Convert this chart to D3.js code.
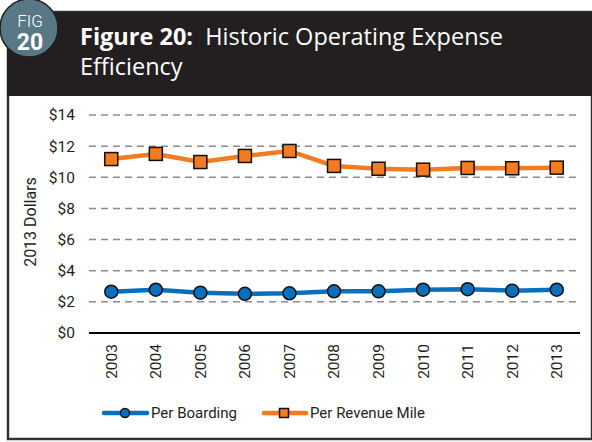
<!DOCTYPE html>
<html>
<head>
<meta charset="utf-8">
<script src="https://cdn.jsdelivr.net/npm/d3@7"></script>
<style>
  body { margin: 0; background: #fff; }
  svg { display: block; }
</style>
</head>
<body>
<script>
// values (2013 dollars)
var years = ['2003','2004','2005','2006','2007','2008','2009','2010','2011','2012','2013'];
var perBoarding = [2.65, 2.78, 2.59, 2.52, 2.55, 2.68, 2.68, 2.78, 2.81, 2.72, 2.78];
var perRevenueMile = [11.17, 11.5, 10.98, 11.37, 11.69, 10.73, 10.55, 10.49, 10.6, 10.58, 10.62];
var yTicks = [0, 2, 4, 6, 8, 10, 12, 14];

var W = 592, H = 442;
var font = 'Roboto, sans-serif';
var blue = '#0a70be', orange = '#f47b20';

var svg = d3.select('body').append('svg').attr('width', W).attr('height', H);

// frame + header
svg.append('rect').attr('x', 8).attr('y', 12).attr('width', W - 8).attr('height', 427)
  .attr('fill', '#fff').attr('stroke', '#333').attr('stroke-width', 2.5);
svg.append('rect').attr('x', 7).attr('y', 12).attr('width', W - 7).attr('height', 84)
  .attr('fill', '#231f20');

svg.append('circle').attr('cx', 29).attr('cy', 28).attr('r', 29)
  .attr('fill', '#587886').attr('stroke', '#231f20').attr('stroke-width', 1.5);
svg.append('text').attr('x', 30).attr('y', 27).attr('text-anchor', 'middle')
  .attr('font-family', font).attr('font-size', 17).attr('font-weight', 300)
  .attr('fill', '#fff').text('FIG');
svg.append('text').attr('x', 30).attr('y', 50).attr('text-anchor', 'middle')
  .attr('font-family', font).attr('font-size', 23).attr('font-weight', 700)
  .attr('fill', '#fff').text('20');

var title = svg.append('text').attr('x', 80).attr('y', 45)
  .attr('font-family', '"Open Sans", sans-serif').attr('font-size', 23.5).attr('fill', '#fff');
title.append('tspan').attr('font-weight', 700).text('Figure 20:');
title.append('tspan').text('\u00a0 Historic Operating Expense');
svg.append('text').attr('x', 80).attr('y', 75)
  .attr('font-family', '"Open Sans", sans-serif').attr('font-size', 23.5).attr('fill', '#fff')
  .text('Efficiency');

// chart
var x = d3.scaleBand().domain(years).range([89, 579]);
var y = d3.scaleLinear().domain([0, 14]).range([333, 115]);

var grid = svg.append('g');
grid.selectAll('line').data(yTicks.filter(function(d) { return d > 0; })).enter()
  .append('line')
  .attr('x1', 89).attr('x2', 580)
  .attr('y1', function(d) { return y(d); }).attr('y2', function(d) { return y(d); })
  .attr('stroke', '#8c8c8c').attr('stroke-width', 1.5).attr('stroke-dasharray', '7,5');

var yAxis = svg.append('g').attr('transform', 'translate(89,0)')
  .call(d3.axisLeft(y).tickValues(yTicks).tickSize(0).tickPadding(14)
    .tickFormat(function(d) { return '$' + d; }));
yAxis.select('.domain').remove();
yAxis.selectAll('text').attr('font-family', font).attr('font-size', 15.5).attr('fill', '#231f20');

svg.append('line').attr('x1', 89).attr('x2', 580).attr('y1', y(0)).attr('y2', y(0))
  .attr('stroke', '#000').attr('stroke-width', 2);

var xAxis = svg.append('g').attr('transform', 'translate(0,' + y(0) + ')')
  .call(d3.axisBottom(x).tickSize(0).tickPadding(0));
xAxis.select('.domain').remove();
xAxis.selectAll('text')
  .attr('font-family', font).attr('font-size', 15.5).attr('fill', '#231f20')
  .attr('text-anchor', 'end').attr('dy', '0.35em')
  .attr('transform', 'translate(0,11) rotate(-90)');

svg.append('text').attr('transform', 'translate(36,222) rotate(-90)')
  .attr('text-anchor', 'middle').attr('font-family', font).attr('font-size', 16)
  .attr('fill', '#231f20').text('2013 Dollars');

var cx = function(d, i) { return x(years[i]) + x.bandwidth() / 2; };
var line = d3.line().x(cx).y(function(d) { return y(d); });

svg.append('path').datum(perRevenueMile).attr('d', line)
  .attr('fill', 'none').attr('stroke', orange).attr('stroke-width', 4.5);
svg.append('g').selectAll('rect').data(perRevenueMile).enter().append('rect')
  .attr('x', function(d, i) { return cx(d, i) - 6.5; })
  .attr('y', function(d) { return y(d) - 6.5; })
  .attr('width', 13).attr('height', 13)
  .attr('fill', orange).attr('stroke', '#111').attr('stroke-width', 1.5);

svg.append('path').datum(perBoarding).attr('d', line)
  .attr('fill', 'none').attr('stroke', blue).attr('stroke-width', 4.5);
svg.append('g').selectAll('circle').data(perBoarding).enter().append('circle')
  .attr('cx', cx).attr('cy', function(d) { return y(d); }).attr('r', 6.5)
  .attr('fill', blue).attr('stroke', '#111').attr('stroke-width', 1.5);

// legend
var ly = 413;
var leg1 = svg.append('g');
leg1.append('line').attr('x1', 104).attr('x2', 147).attr('y1', ly).attr('y2', ly)
  .attr('stroke', blue).attr('stroke-width', 4.5).attr('stroke-linecap', 'round');
leg1.append('circle').attr('cx', 125).attr('cy', ly).attr('r', 4.5)
  .attr('fill', blue).attr('stroke', '#111').attr('stroke-width', 1.5);
leg1.append('text').attr('x', 151).attr('y', ly).attr('dy', '0.35em')
  .attr('font-family', font).attr('font-size', 15).attr('fill', '#231f20').text('Per Boarding');

var leg2 = svg.append('g');
leg2.append('line').attr('x1', 264).attr('x2', 306).attr('y1', ly).attr('y2', ly)
  .attr('stroke', orange).attr('stroke-width', 4.5).attr('stroke-linecap', 'round');
leg2.append('rect').attr('x', 279.5).attr('y', ly - 4.5).attr('width', 9).attr('height', 9)
  .attr('fill', orange).attr('stroke', '#111').attr('stroke-width', 1.5);
leg2.append('text').attr('x', 310).attr('y', ly).attr('dy', '0.35em')
  .attr('font-family', font).attr('font-size', 15).attr('fill', '#231f20').text('Per Revenue Mile');
</script>
</body>
</html>
